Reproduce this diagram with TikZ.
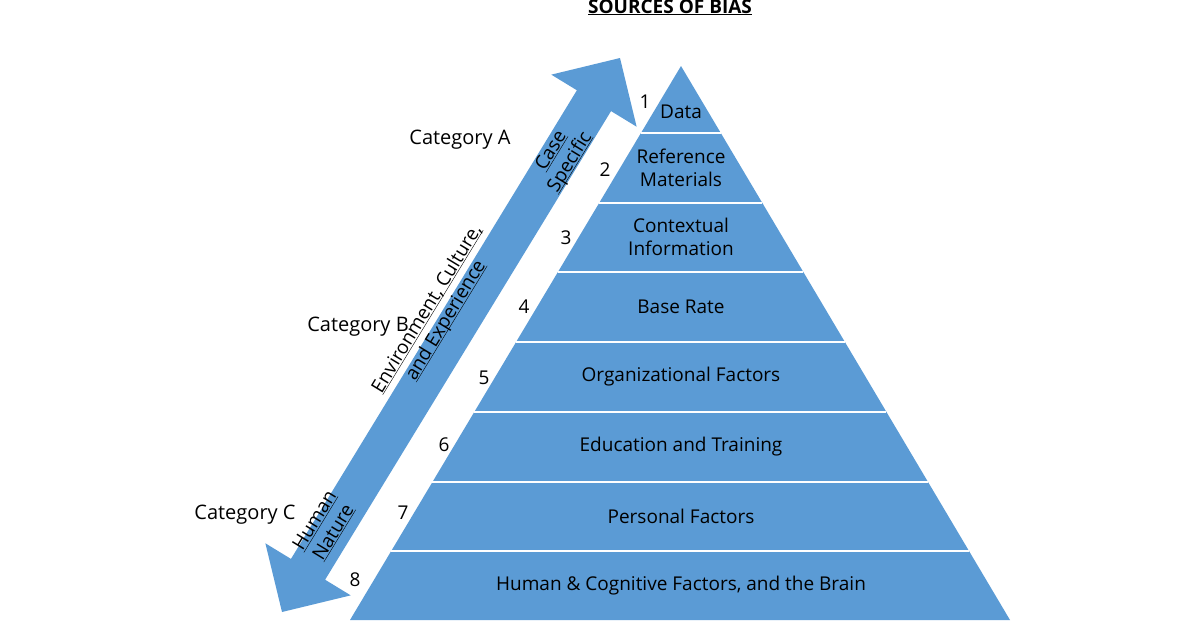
\documentclass[tikz,border=0pt]{standalone}
\usepackage{fontspec}
\setmainfont{Open Sans}
\usetikzlibrary{calc, positioning}
\definecolor{biasBlue}{RGB}{91,155,213}
\newcommand{\ul}[1]{\underline{\smash{#1}}}

\begin{document}
\begin{tikzpicture}[
    x=1pt, y=-1pt,
    every node/.style={font=\fontsize{19}{23}\selectfont, align=center, inner sep=1pt},
    level/.style={text=black},
    num/.style={text=black},
    cat/.style={text=black, font=\fontsize{20}{24}\selectfont},
    along/.style={rotate=58.6, font=\fontsize{19}{22}\selectfont},
    sep/.style={draw=white, line width=2pt}
]
\useasboundingbox (0,0) rectangle (1200,624);

% Title
\node (title) at (670,14) {\textbf{\ul{SOURCES OF BIAS}}};

% Pyramid
\coordinate (apex) at (681,66);
\coordinate (bl) at (350,620);
\coordinate (br) at (1010,620);
\fill[biasBlue] (apex) -- (bl) -- (br) -- cycle;
\foreach \y in {133,203,272,342,412,482,551} {
  \pgfmathsetmacro{\t}{(\y-66)/554}
  \draw[sep] ($(apex)!\t!(bl)$) -- ($(apex)!\t!(br)$);
}

% Levels
\node[level] (l1) at (681,112) {Data};
\node[level] (l2) at (681,168) {Reference\\Materials};
\node[level] (l3) at (681,237) {Contextual\\Information};
\node[level] (l4) at (681,307) {Base Rate};
\node[level] (l5) at (681,377) {Organizational Factors};
\node[level] (l6) at (681,447) {Education and Training};
\node[level] (l7) at (681,516) {Personal Factors};
\node[level] (l8) at (681,586) {Human \& Cognitive Factors, and the Brain};

% Numbers
\node[num] (n1) at (645,102) {1};
\node[num] (n2) at (605,170) {2};
\node[num] (n3) at (566,238) {3};
\node[num] (n4) at (524,307) {4};
\node[num] (n5) at (484,378) {5};
\node[num] (n6) at (444,445) {6};
\node[num] (n7) at (403,513) {7};
\node[num] (n8) at (355,580) {8};

% Double arrow
\coordinate (tipA) at (620,58);
\coordinate (tipC) at (282,612);
\coordinate (neckA) at ($(tipA)!50pt!(tipC)$);
\coordinate (neckC) at ($(tipC)!50pt!(tipA)$);
\fill[biasBlue] (tipA)
  -- ($(neckA)!50pt!90:(tipC)$) -- ($(neckA)!20pt!90:(tipC)$)
  -- ($(neckC)!20pt!-90:(tipA)$) -- ($(neckC)!50pt!-90:(tipA)$)
  -- (tipC)
  -- ($(neckC)!50pt!90:(tipA)$) -- ($(neckC)!20pt!90:(tipA)$)
  -- ($(neckA)!20pt!-90:(tipC)$) -- ($(neckA)!50pt!-90:(tipC)$)
  -- cycle;

% Arrow texts
\node[along] (caseSp) at (566,160) {\ul{Case}\\\ul{Specific}};
\node[along] (envCul) at (442,318) {\ul{Environment, Culture,}\\\ul{and Experience}};
\node[along] (humNat) at (330,530) {\ul{Human}\\\ul{Nature}};

% Categories
\node[cat] (catA) at (460,140) {Category A};
\node[cat] (catB) at (358,327) {Category B};
\node[cat] (catC) at (245,515) {Category C};
\end{tikzpicture}
\end{document}
